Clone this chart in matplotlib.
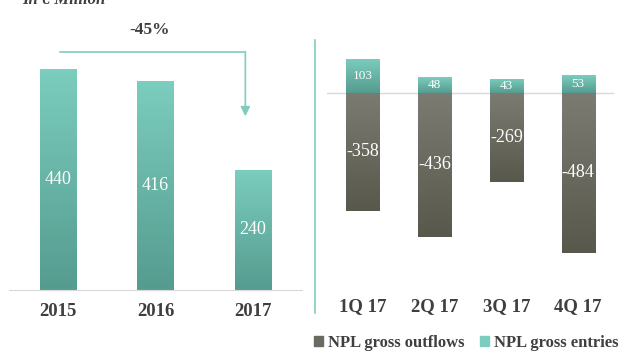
import numpy as np
import matplotlib.pyplot as plt
from matplotlib.colors import LinearSegmentedColormap

# -----------------------------
# data
# -----------------------------
years = ["2015", "2016", "2017"]
npl_stock = [440, 416, 240]

quarters = ["1Q 17", "2Q 17", "3Q 17", "4Q 17"]
gross_entries = [103, 48, 43, 53]
gross_outflows = [-358, -436, -269, -484]

TEAL_TOP, TEAL_BOT = "#7bcdbd", "#559c8f"
GREY_TOP, GREY_BOT = "#7b7b72", "#58584c"
TXT = "#3f3f3f"
FONT = "Liberation Serif"

plt.rcParams['font.family'] = FONT


def gradient_fill(ax, bars, top, bottom):
    cmap = LinearSegmentedColormap.from_list("g", [bottom, top])
    grad = np.linspace(0, 1, 64).reshape(-1, 1)
    for b in bars:
        x, y, w, h = b.get_x(), b.get_y(), b.get_width(), b.get_height()
        y0, y1 = min(y, y + h), max(y, y + h)
        im = ax.imshow(grad, cmap=cmap, extent=(x, x + w, y0, y1),
                       origin="lower", aspect="auto", zorder=2)
        im.set_clip_path(b)
        b.set_facecolor("none")


fig = plt.figure(figsize=(6.26, 3.52), dpi=100)

# -----------------------------
# left panel: yearly stock
# -----------------------------
ax1 = fig.add_axes([9 / 626, 62 / 352, 293 / 626, 250 / 352])
xl = np.arange(len(years))
b1 = ax1.bar(xl, npl_stock, width=0.37, color=TEAL_TOP, linewidth=0, zorder=2)
gradient_fill(ax1, b1, TEAL_TOP, TEAL_BOT)
ax1.set_xlim(-0.5, 2.5)
ax1.set_ylim(0, 498)
for x, v in zip(xl, npl_stock):
    ax1.text(x, v / 2, str(v), ha="center", va="center", color="white",
             fontsize=13, zorder=4)
ax1.set_xticks(xl)
ax1.set_xticklabels(years, fontsize=13.5, fontweight="bold", color=TXT)
ax1.tick_params(axis="x", length=0, pad=9)
ax1.set_yticks([])
for s in ["top", "right", "left"]:
    ax1.spines[s].set_visible(False)
ax1.spines["bottom"].set_color("#d9d9d9")

# arrow -45%
ax1.plot([0.02, 1.92], [474, 474], color="#80cdbf", lw=1.2, clip_on=False)
ax1.annotate("", xy=(1.92, 346), xytext=(1.92, 475),
             arrowprops=dict(arrowstyle="-|>", color="#80cdbf", lw=1.2,
                             mutation_scale=14, shrinkA=0, shrinkB=0),
             annotation_clip=False)
ax1.text(0.94, 518, "-45%", ha="center", va="center", fontsize=12.5,
         fontweight="bold", color=TXT, clip_on=False)

# -----------------------------
# right panel: quarterly flows
# -----------------------------
ax2 = fig.add_axes([327 / 626, 62 / 352, 287 / 626, 250 / 352])
xq = np.arange(len(quarters))
b_out = ax2.bar(xq, gross_outflows, width=0.46, color=GREY_TOP, linewidth=0,
                zorder=2, label="NPL gross outflows")
b_in = ax2.bar(xq, gross_entries, width=0.46, color=TEAL_TOP, linewidth=0,
               zorder=2, label="NPL gross entries")
gradient_fill(ax2, b_out, GREY_TOP, GREY_BOT)
gradient_fill(ax2, b_in, TEAL_TOP, TEAL_BOT)
ax2.set_xlim(-0.5, 3.5)
ax2.set_ylim(-597, 160)
ax2.axhline(0, color="#d9d9d9", lw=1, zorder=1)
for x, v in zip(xq, gross_outflows):
    ax2.text(x, v / 2, str(v), ha="center", va="center", color="white",
             fontsize=13, zorder=4)
for x, v in zip(xq, gross_entries):
    ax2.text(x, v / 2, str(v), ha="center", va="center", color="white",
             fontsize=9.5, zorder=4)
ax2.set_xticks(xq)
ax2.set_xticklabels(quarters, fontsize=13.5, fontweight="bold", color=TXT)
ax2.tick_params(axis="x", length=0, pad=6)
ax2.set_yticks([])
for s in ax2.spines.values():
    s.set_visible(False)

# legend
h_out = plt.Rectangle((0, 0), 1, 1, color="#6a6a60")
h_in = plt.Rectangle((0, 0), 1, 1, color=TEAL_TOP)
fig.legend([h_out, h_in], ["NPL gross outflows", "NPL gross entries"],
           loc="center", bbox_to_anchor=(466 / 626, 9 / 352), ncol=2,
           frameon=False, handlelength=0.55, handleheight=0.55,
           handletextpad=0.3, columnspacing=0.9,
           prop=dict(family=FONT, weight="bold", size=12),
           labelcolor=TXT, borderpad=0.1)

# separator line
fig.add_artist(plt.Line2D([315 / 626, 315 / 626], [39 / 352, 312 / 352],
                          color="#80cdbf", lw=1.2))

# unit label, cut at the top
fig.text(22 / 626, 1.0, "In € Million", ha="left", va="center",
         fontsize=12, fontweight="bold", fontstyle="italic", color=TXT)

plt.savefig("out.png", dpi=100)
plt.close()
